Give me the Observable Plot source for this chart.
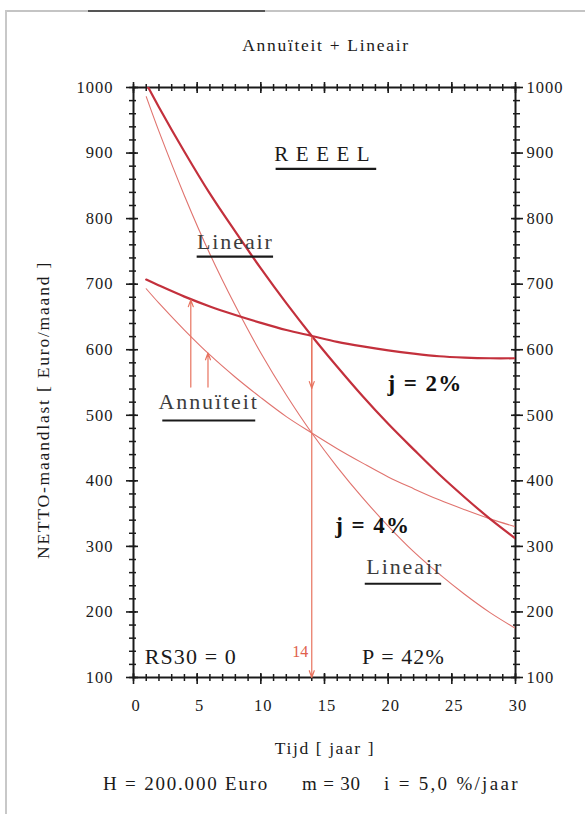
<!DOCTYPE html>
<html><head><meta charset="utf-8">
<script src="https://cdn.jsdelivr.net/npm/d3@7"></script>
<script src="https://cdn.jsdelivr.net/npm/@observablehq/plot@0.6"></script>
<style>
body{margin:0;background:#fff;}
#wrap{position:relative;width:585px;height:814px;overflow:hidden;font-family:"Liberation Serif",serif;color:#1a1a1a;background:#fff;}
.t{position:absolute;white-space:nowrap;transform:translate(-50%,-50%);}
.f{position:absolute;white-space:nowrap;transform:translate(0,-50%);font-size:19px;letter-spacing:1.6px;}
.ln{position:absolute;}
</style></head><body>
<div id="wrap">
  <div class="ln" style="left:5px;top:10px;width:580px;border-top:2px solid #c4c4c4;"></div>
  <div class="ln" style="left:88px;top:10px;width:177px;border-top:2px solid #555;"></div>
  <div class="ln" style="left:5px;top:10px;height:804px;border-left:2px solid #c8c8c8;"></div>
  <div class="t" id="title" style="left:326px;top:45px;font-size:17.5px;letter-spacing:1.7px;">Annuïteit + Lineair</div>
  <div class="t" id="xlab" style="left:325px;top:748px;font-size:17.5px;letter-spacing:1.6px;">Tijd [ jaar ]</div>
  <div class="f" style="left:103px;top:784px;letter-spacing:1.8px;">H = 200.000 Euro</div>
  <div class="f" style="left:302px;top:784px;letter-spacing:0.8px;">m = 30</div>
  <div class="f" style="left:384px;top:784px;letter-spacing:2.3px;">i = 5,0 %/jaar</div>
  <div class="t" id="ylab" style="left:43px;top:410px;font-size:17.5px;letter-spacing:1.8px;transform:translate(-50%,-50%) rotate(-90deg);">NETTO-maandlast [ Euro/maand ]</div>
</div>
<script>
// ---- data ----
const years = [1, 2, 4, 6, 8, 10, 12, 14, 16, 18, 20, 22, 24, 26, 28, 30];
const lineairJ2 = [1006, 970, 902, 838, 780, 724, 671, 621, 574, 529, 487, 448, 410, 375, 342, 312];
const lineairJ4 = [986, 933, 835, 746, 667, 595, 531, 473, 421, 374, 331, 292, 258, 227, 199, 175];
const annuiteitJ2 = [707, 698, 681, 666, 653, 641, 630, 621, 612, 605, 599, 594, 590, 588, 587, 587];
const annuiteitJ4 = [693, 671, 630, 592, 558, 527, 498, 473, 449, 427, 406, 388, 371, 356, 342, 330];

const xTickLabels = [0, 5, 10, 15, 20, 25, 30];
const yTickLabels = [100, 200, 300, 400, 500, 600, 700, 800, 900, 1000];

// annotation arrows: x (year), from, to (euro)
const arrows = [
  {x: 14, from: 619, to: 100},
  {x: 14, from: 619, to: 541},
  {x: 4.5, from: 543, to: 676},
  {x: 5.85, from: 543, to: 595}
];
const labels = [
  {x: 15.1, y: 898, text: "REEEL"},
  {x: 8.0, y: 764, text: "Lineair"},
  {x: 5.9, y: 520, text: "Annuïteit"},
  {x: 21.3, y: 268, text: "Lineair"},
  {x: 4.5, y: 131, text: "RS30 = 0"},
  {x: 21.2, y: 131, text: "P = 42%"}
];
const boldLabels = [
  {x: 22.9, y: 548, text: "j = 2%"},
  {x: 18.8, y: 332, text: "j = 4%"}
];
const redLabels = [{x: 13.1, y: 139, text: "14"}];
const underlines = [
  {x1: 11.2, x2: 19.1, y: 876},
  {x1: 5.0, x2: 11.0, y: 742},
  {x1: 2.3, x2: 9.6, y: 492},
  {x1: 18.2, x2: 24.2, y: 243}
];

const rows = vals => years.map((t, i) => ({t, v: vals[i]}));
const THICK = "#c3303c", THIN = "#e0736e", ARROW = "#e8735f", INK = "#1a1a1a";
const xMinor = d3.range(0, 31, 1), xMajor = d3.range(0, 31, 5);
const yMinor = d3.range(100, 1001, 20), yMajor = d3.range(100, 1001, 100);
const noLab = () => "";
const plain = d => String(d);
const isLab = t => t === "Lineair" || t === "Annuïteit";

const plot = Plot.plot({
  width: 585, height: 814,
  marginTop: 87, marginBottom: 137, marginLeft: 133, marginRight: 70,
  x: {domain: [0, 30]},
  y: {domain: [100, 1000]},
  style: {fontFamily: "Liberation Serif, serif", fontSize: "16px", background: "transparent", color: INK},
  marks: [
    // ticks crossing the frame
    Plot.axisX({anchor: "bottom", ticks: xMinor, tickSize: 7, dy: -3, tickFormat: noLab, label: null, stroke: INK, strokeWidth: 1.5}),
    Plot.axisX({anchor: "bottom", ticks: xMajor, tickSize: 11, dy: -4, tickFormat: noLab, label: null, stroke: INK, strokeWidth: 1.6}),
    Plot.axisX({anchor: "top", ticks: xMinor, tickSize: 7, dy: 3, tickFormat: noLab, label: null, stroke: INK, strokeWidth: 1.5}),
    Plot.axisX({anchor: "top", ticks: xMajor, tickSize: 11, dy: 5, tickFormat: noLab, label: null, stroke: INK, strokeWidth: 1.6}),
    Plot.axisY({anchor: "left", ticks: yMinor, tickSize: 7, dx: 3, tickFormat: noLab, label: null, stroke: INK, strokeWidth: 1.5}),
    Plot.axisY({anchor: "left", ticks: yMajor, tickSize: 12, dx: 5, tickFormat: noLab, label: null, stroke: INK, strokeWidth: 1.6}),
    Plot.axisY({anchor: "right", ticks: yMinor, tickSize: 7, dx: -3, tickFormat: noLab, label: null, stroke: INK, strokeWidth: 1.5}),
    Plot.axisY({anchor: "right", ticks: yMajor, tickSize: 12, dx: -5, tickFormat: noLab, label: null, stroke: INK, strokeWidth: 1.6}),
    // tick labels
    Plot.axisX({anchor: "bottom", ticks: xTickLabels, tickSize: 0, tickPadding: 22, dx: 2.5, tickFormat: plain, label: null, fontSize: 16.5}),
    Plot.axisY({anchor: "left", ticks: yTickLabels, tickSize: 0, tickPadding: 20, tickFormat: plain, label: null, fontSize: 16.5}),
    Plot.axisY({anchor: "right", ticks: yTickLabels, tickSize: 0, tickPadding: 11, tickFormat: plain, label: null, fontSize: 16.5}),
    Plot.frame({stroke: INK, strokeWidth: 2}),
    // curves
    Plot.line(rows(lineairJ4), {x: "t", y: "v", curve: "catmull-rom", stroke: THIN, strokeWidth: 1.1, clip: true}),
    Plot.line(rows(annuiteitJ4), {x: "t", y: "v", curve: "catmull-rom", stroke: THIN, strokeWidth: 1.1, clip: true}),
    Plot.line(rows(lineairJ2), {x: "t", y: "v", curve: "catmull-rom", stroke: THICK, strokeWidth: 2.2, clip: true}),
    Plot.line(rows(annuiteitJ2), {x: "t", y: "v", curve: "catmull-rom", stroke: THICK, strokeWidth: 2.2, clip: true}),
    // arrows
    Plot.arrow(arrows, {x1: "x", x2: "x", y1: "from", y2: "to", stroke: ARROW, strokeWidth: 1.2, headLength: 9, headAngle: 40}),
    // underlines
    Plot.ruleY(underlines, {x1: "x1", x2: "x2", y: "y", stroke: INK, strokeWidth: 2.2}),
    // annotations
    Plot.text(labels.filter(d => d.text === "REEEL"), {x: "x", y: "y", text: "text", fontSize: 21, fill: INK}),
    Plot.text(labels.filter(d => isLab(d.text)), {x: "x", y: "y", text: "text", fontSize: 22, fill: "#3c3c3c"}),
    Plot.text(labels.filter(d => d.text.includes("=")), {x: "x", y: "y", text: "text", fontSize: 22, fill: INK}),
    Plot.text(boldLabels, {x: "x", y: "y", text: "text", fontSize: 23, fontWeight: "bold", fill: "#111"}),
    Plot.text(redLabels, {x: "x", y: "y", text: "text", fontSize: 16, fill: "#e0604c"})
  ]
});
plot.style.position = "absolute";
plot.style.left = "0px";
plot.style.top = "0px";
document.getElementById("wrap").appendChild(plot);
const tickSet = new Set([...xTickLabels, ...yTickLabels].map(String));
d3.select(plot).selectAll("text").each(function() {
  const t = this.textContent;
  let ls = null;
  if (t === "REEEL") ls = "7.5px";
  else if (isLab(t)) ls = "1.9px";
  else if (t === "RS30 = 0" || t === "P = 42%") ls = "1.1px";
  else if (t.startsWith("j =")) ls = "1.4px";
  else if (tickSet.has(t)) ls = "1px";
  if (ls) this.style.letterSpacing = ls;
});
</script>
</body></html>
